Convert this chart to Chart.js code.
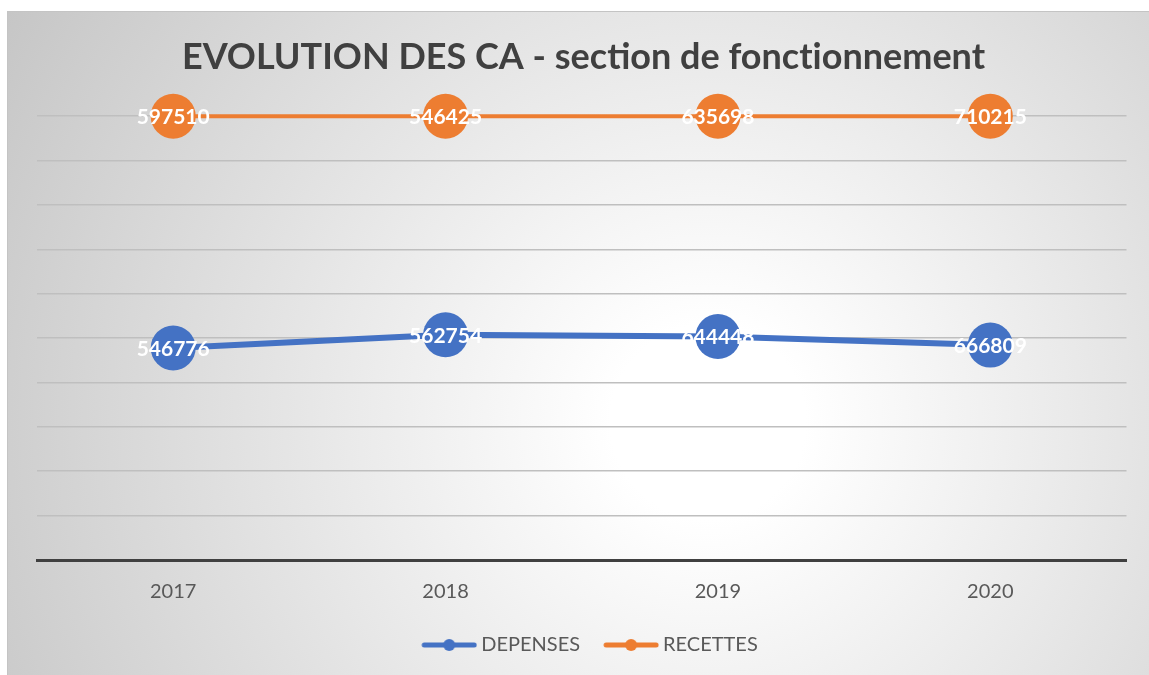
<!DOCTYPE html>
<html>
<head>
<meta charset="utf-8">
<script src="https://cdn.jsdelivr.net/npm/chart.js@4"></script>
<style>
  html, body { margin: 0; padding: 0; background: #fff; width: 1149px; height: 675px; overflow: hidden; }
  #box {
    position: absolute; left: 7px; top: 11px; width: 1150px; height: 670px;
    border-left: 1px solid #c4c4c4; border-top: 1px solid #c4c4c4;
    background: radial-gradient(circle farthest-corner at 700px 410px, #ffffff 0%, #ffffff 12%, #c6c6c6 100%);
  }
  #wrap { position: absolute; left: 0; top: 0; width: 1149px; height: 675px; }
</style>
</head>
<body>
<div id="box"></div>
<div id="wrap"><canvas id="chart" width="1149" height="675"></canvas></div>
<script>
const years = ["2017", "2018", "2019", "2020"];
const depenses = [546776, 562754, 644448, 666809];
const recettes = [597510, 546425, 635698, 710215];

// 100% stacked line, like the original sheet
const totals = years.map((_, i) => depenses[i] + recettes[i]);
const depPct = depenses.map((v, i) => (v / totals[i]) * 100);
const recPct = recettes.map((v, i) => (v / totals[i]) * 100);

const FONT = "Lato, 'Open Sans', sans-serif";

// line + dot marker, with some empty room on the left as item spacing
function legendIcon(color) {
  const c = document.createElement("canvas");
  c.width = 74; c.height = 14;
  const g = c.getContext("2d");
  g.strokeStyle = color; g.fillStyle = color;
  g.lineWidth = 5; g.lineCap = "round";
  g.beginPath(); g.moveTo(21, 7); g.lineTo(71, 7); g.stroke();
  g.beginPath(); g.arc(46, 7, 6, 0, Math.PI * 2); g.fill();
  return c;
}

const rawLabels = {
  id: "rawLabels",
  afterDatasetsDraw(chart) {
    const ctx = chart.ctx;
    ctx.save();
    ctx.font = "bold 21px " + FONT;
    ctx.fillStyle = "#ffffff";
    ctx.textAlign = "center";
    ctx.textBaseline = "middle";
    chart.data.datasets.forEach((ds, di) => {
      chart.getDatasetMeta(di).data.forEach((pt, i) => {
        ctx.fillText(String(ds.raw[i]), pt.x, pt.y + 1);
      });
    });
    ctx.restore();
  }
};

new Chart(document.getElementById("chart"), {
  type: "line",
  data: {
    labels: years,
    datasets: [
      { label: "DEPENSES", data: depPct, raw: depenses, borderColor: "#4472c4", backgroundColor: "#4472c4",
        borderWidth: 6, pointRadius: 22.5, pointHoverRadius: 22.5, pointBorderWidth: 0, tension: 0, clip: false,
        pointStyle: "circle" },
      { label: "RECETTES", data: recPct, raw: recettes, borderColor: "#ed7d31", backgroundColor: "#ed7d31",
        borderWidth: 4, pointRadius: 22.5, pointHoverRadius: 22.5, pointBorderWidth: 0, tension: 0, clip: false,
        pointStyle: "circle" },
    ],
  },
  options: {
    responsive: false,
    animation: false,
    layout: { padding: { left: 37, right: 19, top: 0, bottom: 10 } },
    scales: {
      x: {
        offset: true,
        grid: { display: false, drawTicks: false },
        border: { display: true, color: "#404040", width: 3 },
        ticks: { color: "#595959", font: { family: FONT, size: 20 }, padding: 20 },
      },
      y: {
        stacked: true,
        min: 0, max: 100,
        ticks: { display: false, stepSize: 10 },
        grid: { color: "#bfbfbf", lineWidth: 1.5, drawTicks: false },
        border: { display: false },
      },
    },
    plugins: {
      title: {
        display: true,
        text: "EVOLUTION DES CA - section de fonct\u200Cionnement",
        color: "#404040",
        font: { family: FONT, size: 36, weight: "bold" },
        padding: { top: 36, bottom: 37 },
      },
      legend: {
        position: "bottom",
        labels: {
          usePointStyle: true,
          pointStyleWidth: 62,
          color: "#595959",
          font: { family: FONT, size: 20 },
          padding: 11,
          generateLabels(chart) {
            return chart.data.datasets.map((ds, i) => ({
              text: ds.label,
              fontColor: "#595959",
              pointStyle: legendIcon(ds.borderColor),
              datasetIndex: i,
              hidden: false,
              lineWidth: 0,
            }));
          },
        },
      },
      tooltip: { enabled: false },
    },
  },
  plugins: [rawLabels],
});
</script>
</body>
</html>
